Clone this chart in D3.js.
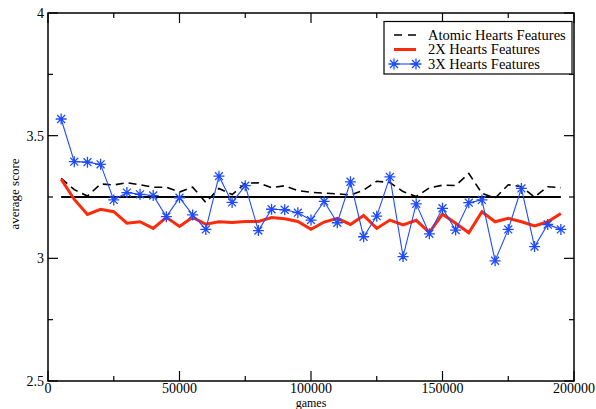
<!DOCTYPE html>
<meta charset="utf-8">
<style>
body{ margin:0; background:#fff; }
svg text{ font-family:"Liberation Serif","Times New Roman",serif; fill:#000; }
.frame{ fill:none; stroke:#000; stroke-width:1.5px; }
.tick{ stroke:#000; stroke-width:1.2px; }
</style>
<body>
<script src="https://cdn.jsdelivr.net/npm/d3@7"></script>
<script>
// games played, every 5000
var games = d3.range(1, 40).map(function(i){ return i*5000; });

var atomic = [3.326,3.28,3.254,3.303,3.299,3.308,3.30,3.29,3.29,3.27,
  3.29,3.228,3.285,3.26,3.306,3.308,3.288,3.296,3.276,3.269,
  3.266,3.263,3.258,3.278,3.314,3.309,3.272,3.252,3.287,3.298,
  3.297,3.346,3.265,3.245,3.30,3.292,3.25,3.292,3.288];

var twoX = [3.323,3.24,3.179,3.20,3.19,3.143,3.149,3.122,3.167,3.13,
  3.167,3.139,3.149,3.146,3.150,3.150,3.166,3.161,3.150,3.118,
  3.148,3.163,3.138,3.175,3.122,3.156,3.136,3.155,3.105,3.18,
  3.143,3.104,3.19,3.149,3.163,3.149,3.132,3.149,3.183];

var threeX = [3.568,3.394,3.392,3.383,3.238,3.268,3.261,3.256,3.17,3.247,
  3.177,3.118,3.335,3.228,3.296,3.113,3.20,3.198,3.186,3.156,
  3.232,3.145,3.312,3.088,3.172,3.332,3.007,3.222,3.10,3.204,
  3.115,3.227,3.238,2.99,3.118,3.285,3.048,3.138,3.118];

var baseline = 3.25;
var xTicks = [0, 50000, 100000, 150000, 200000];
var yTicks = [2.5, 3, 3.5, 4];
var legendNames = ["Atomic Hearts Features", "2X Hearts Features", "3X Hearts Features"];

var W = 596, H = 409;
var x = d3.scaleLinear().domain([0, 200000]).range([48, 574]);
var y = d3.scaleLinear().domain([2.5, 4]).range([381, 13]);

var svg = d3.select("body").append("svg").attr("width", W).attr("height", H);

// ticks inward on all four sides
var xMinor = d3.range(0, 200001, 25000), yMinor = d3.range(2.5, 4.001, 0.25);
var tk = svg.append("g");
xMinor.forEach(function(v){
  var len = (v % 50000 == 0) ? 10 : 5;
  tk.append("line").attr("class","tick").attr("x1",x(v)).attr("x2",x(v)).attr("y1",y(2.5)).attr("y2",y(2.5)-len);
  tk.append("line").attr("class","tick").attr("x1",x(v)).attr("x2",x(v)).attr("y1",y(4)).attr("y2",y(4)+len);
});
yMinor.forEach(function(v){
  var len = (Math.abs(v*2 - Math.round(v*2)) < 1e-6) ? 10 : 5;
  tk.append("line").attr("class","tick").attr("x1",x(0)).attr("x2",x(0)+len).attr("y1",y(v)).attr("y2",y(v));
  tk.append("line").attr("class","tick").attr("x1",x(200000)).attr("x2",x(200000)-len).attr("y1",y(v)).attr("y2",y(v));
});

svg.append("g").selectAll("text").data(xTicks).enter().append("text")
  .attr("x", function(d){ return x(d); }).attr("y", 393)
  .attr("text-anchor","middle").style("font-size","14px").text(function(d){ return d; });
svg.append("g").selectAll("text").data(yTicks).enter().append("text")
  .attr("x", 44).attr("y", function(d){ return y(d) + 5; })
  .attr("text-anchor","end").style("font-size","14px").text(function(d){ return d; });

svg.append("text").attr("x", x(100000)).attr("y", 406.5).attr("text-anchor","middle")
  .style("font-size","12px").text("games");
svg.append("text").attr("transform","translate(19,194) rotate(-90)").attr("text-anchor","middle")
  .style("font-size","13px").text("average score");

// reference line
svg.append("line").attr("x1", x(games[0])).attr("x2", x(games[games.length-1]))
  .attr("y1", y(baseline)).attr("y2", y(baseline)).attr("stroke","#000").attr("stroke-width",1.8);

var line = d3.line().x(function(d,i){ return x(games[i]); }).y(function(d){ return y(d); });

svg.append("path").datum(atomic).attr("d", line).attr("fill","none")
  .attr("stroke","#000").attr("stroke-width",1.6).attr("stroke-dasharray","8,5");
svg.append("path").datum(twoX).attr("d", line).attr("fill","none")
  .attr("stroke","#ff2a0a").attr("stroke-width",3);
svg.append("path").datum(threeX).attr("d", line).attr("fill","none")
  .attr("stroke","#1f4bff").attr("stroke-width",1.1);

function star(g, cx, cy){
  var r = 5.5, d = r*0.72;
  g.append("path")
    .attr("d", "M"+(cx-r)+","+cy+"H"+(cx+r)+"M"+cx+","+(cy-r)+"V"+(cy+r)
      +"M"+(cx-d)+","+(cy-d)+"L"+(cx+d)+","+(cy+d)+"M"+(cx-d)+","+(cy+d)+"L"+(cx+d)+","+(cy-d))
    .attr("stroke","#1f4bff").attr("stroke-width",1.3).attr("fill","none");
}
var stars = svg.append("g");
threeX.forEach(function(v,i){ star(stars, x(games[i]), y(v)); });

// frame
svg.append("rect").attr("class","frame").attr("x",48).attr("y",13).attr("width",526).attr("height",368);

// legend
var lg = svg.append("g");
lg.append("rect").attr("x",384).attr("y",21.5).attr("width",188).attr("height",52.5)
  .attr("fill","#fff").attr("stroke","#000").attr("stroke-width",1.2);
var rowY = [35, 49.5, 64];
lg.append("line").attr("x1",394).attr("x2",416).attr("y1",rowY[0]).attr("y2",rowY[0])
  .attr("stroke","#000").attr("stroke-width",1.6).attr("stroke-dasharray","8,6");
lg.append("line").attr("x1",394).attr("x2",416).attr("y1",rowY[1]).attr("y2",rowY[1])
  .attr("stroke","#ff2a0a").attr("stroke-width",3);
lg.append("line").attr("x1",394).attr("x2",416).attr("y1",rowY[2]).attr("y2",rowY[2])
  .attr("stroke","#1f4bff").attr("stroke-width",1.1);
star(lg, 394, rowY[2]); star(lg, 416, rowY[2]);
lg.selectAll("text.lbl").data(legendNames).enter().append("text").attr("class","lbl")
  .attr("x", 428).attr("y", function(d,i){ return rowY[i] + 4.5; })
  .style("font-size","14.5px").text(function(d){ return d; });
</script>
</body>
